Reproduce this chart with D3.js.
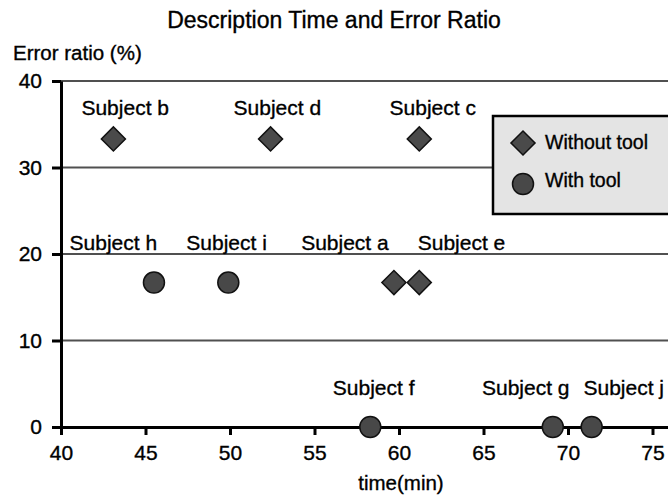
<!DOCTYPE html>
<html>
<head>
<meta charset="utf-8">
<script src="https://cdn.jsdelivr.net/npm/d3@7"></script>
<style>
  body { margin: 0; background: #fff; }
  svg { display: block; font-family: "Liberation Sans", Arial, Helvetica, sans-serif; }
  text { fill: #000; stroke: #000; stroke-width: 0.35px; }
</style>
</head>
<body>
<script>
// values
var subjects   = ["b", "d", "c", "a", "e", "h", "i", "f", "g", "j"];
var groups     = ["without", "without", "without", "without", "without", "with", "with", "with", "with", "with"];
var timeMin    = [43.1, 52.4, 61.2, 59.7, 61.2, 45.5, 49.9, 58.3, 69.1, 71.4];
var errorRatio = [33.3, 33.3, 33.3, 16.7, 16.7, 16.7, 16.7, 0, 0, 0];
// where each label sits, in data units (centre time, baseline error)
var labelTime  = [43.8, 52.8, 62.0, 56.8, 63.7, 43.1, 49.8, 58.5, 67.5, 73.3];
var labelError = [36.1, 36.1, 36.1, 20.5, 20.5, 20.5, 20.5, 3.7, 3.7, 3.7];

var xTicks = [40, 45, 50, 55, 60, 65, 70, 75];
var yTicks = [0, 10, 20, 30, 40];
var legendNames = ["Without tool", "With tool"];

var W = 668, H = 497;
var margin = {left: 61, top: 81};
var plotH = 346;

var svg = d3.select("body").append("svg")
    .attr("width", W)
    .attr("height", H);

var x = d3.scaleLinear().domain([40, 80]).range([margin.left, margin.left + 40 * 16.9]);
var y = d3.scaleLinear().domain([0, 40]).range([margin.top + plotH, margin.top]);

// title and axis names
svg.append("text")
    .attr("x", 334).attr("y", 28)
    .attr("text-anchor", "middle")
    .style("font-size", "23px")
    .text("Description Time and Error Ratio");

svg.append("text")
    .attr("x", 13).attr("y", 60)
    .style("font-size", "20.5px")
    .text("Error ratio (%)");

svg.append("text")
    .attr("x", 401).attr("y", 490)
    .attr("text-anchor", "middle")
    .style("font-size", "20.5px")
    .text("time(min)");

// horizontal grid lines
svg.append("g").selectAll("line")
    .data(yTicks.filter(function(d) { return d > 0; }))
    .join("line")
    .attr("x1", x(40)).attr("x2", W + 10)
    .attr("y1", function(d) { return y(d); })
    .attr("y2", function(d) { return y(d); })
    .attr("stroke", "#505050")
    .attr("stroke-width", 1.8);

// axes
var yAxis = svg.append("g")
    .attr("transform", "translate(" + x(40) + ",0)")
    .call(d3.axisLeft(y).tickValues(yTicks).tickSize(9).tickSizeOuter(0).tickPadding(10));

var xAxis = svg.append("g")
    .attr("transform", "translate(0," + y(0) + ")")
    .call(d3.axisBottom(x).tickValues(xTicks).tickSize(8).tickSizeOuter(0).tickPadding(10));

[xAxis, yAxis].forEach(function(g) {
  g.select(".domain").attr("stroke", "#000").attr("stroke-width", 3);
  g.selectAll(".tick line").attr("stroke", "#000").attr("stroke-width", 3);
  g.selectAll(".tick text")
    .attr("fill", "#000")
    .style("font-size", "21px")
    .style("font-family", "'Liberation Sans', Arial, Helvetica, sans-serif");
});

// markers
var diamond = d3.symbol().type(d3.symbolSquare).size(17 * 17);
var pts = subjects.map(function(s, i) { return i; });

svg.append("g").selectAll("path")
    .data(pts.filter(function(i) { return groups[i] === "without"; }))
    .join("path")
    .attr("d", diamond)
    .attr("transform", function(i) {
      return "translate(" + x(timeMin[i]) + "," + y(errorRatio[i]) + ") rotate(45)";
    })
    .attr("fill", "#4a4a4a")
    .attr("stroke", "#111")
    .attr("stroke-width", 1.5);

svg.append("g").selectAll("circle")
    .data(pts.filter(function(i) { return groups[i] === "with"; }))
    .join("circle")
    .attr("cx", function(i) { return x(timeMin[i]); })
    .attr("cy", function(i) { return y(errorRatio[i]); })
    .attr("r", 10.5)
    .attr("fill", "#484848")
    .attr("stroke", "#111")
    .attr("stroke-width", 1.5);

// subject labels
svg.append("g").selectAll("text")
    .data(pts)
    .join("text")
    .attr("x", function(i) { return x(labelTime[i]); })
    .attr("y", function(i) { return y(labelError[i]); })
    .attr("text-anchor", "middle")
    .style("font-size", "21px")
    .text(function(i) { return "Subject " + subjects[i]; });

// legend
var lg = svg.append("g");
lg.append("rect")
    .attr("x", 493).attr("y", 116)
    .attr("width", 200).attr("height", 98)
    .attr("fill", "#e4e4e4")
    .attr("stroke", "#000")
    .attr("stroke-width", 2.5);

lg.append("path")
    .attr("d", diamond)
    .attr("transform", "translate(523,143) rotate(45)")
    .attr("fill", "#4a4a4a").attr("stroke", "#111").attr("stroke-width", 1.5);
lg.append("circle")
    .attr("cx", 523).attr("cy", 184).attr("r", 10.5)
    .attr("fill", "#484848").attr("stroke", "#111").attr("stroke-width", 1.5);

lg.selectAll("text")
    .data(legendNames)
    .join("text")
    .attr("x", 545)
    .attr("y", function(d, i) { return 149 + i * 38; })
    .style("font-size", "19.5px")
    .text(function(d) { return d; });
</script>
</body>
</html>
